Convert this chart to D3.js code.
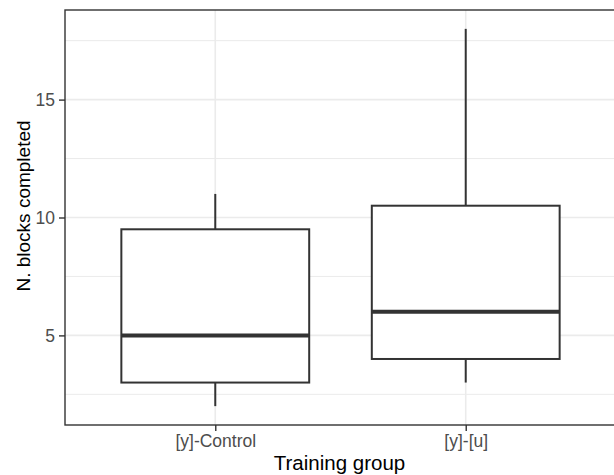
<!DOCTYPE html>
<html>
<head>
<meta charset="utf-8">
<script src="https://cdn.jsdelivr.net/npm/d3@7"></script>
<style>
  html, body { margin: 0; padding: 0; background: #fff; }
  svg { display: block; font-family: "Liberation Sans", Arial, sans-serif; }
</style>
</head>
<body>
<svg id="chart" width="614" height="475"></svg>
<script>
// ---- data ----
const categories = ["[y]-Control", "[y]-[u]"];
const whiskerLow = [2, 3];
const q1 = [3, 4];
const median = [5, 6];
const q3 = [9.5, 10.5];
const whiskerHigh = [11, 18];
const yTicks = [5, 10, 15];
const yMinorTicks = [2.5, 7.5, 12.5, 17.5];
const xTitle = "Training group";
const yTitle = "N. blocks completed";

// ---- layout ----
const W = 614, H = 475;
const panel = { left: 65, right: 616, top: 10, bottom: 425 };

const svg = d3.select("#chart");

const x = d3.scalePoint()
  .domain(categories)
  .range([panel.left, panel.right])
  .padding(0.6);

const y = d3.scaleLinear()
  .domain([1.2, 18.8])
  .range([panel.bottom, panel.top]);

const boxW = x.step() * 0.75;

// panel background
svg.append("rect")
  .attr("x", panel.left).attr("y", panel.top)
  .attr("width", panel.right - panel.left)
  .attr("height", panel.bottom - panel.top)
  .attr("fill", "#fff");

const grid = svg.append("g");
grid.selectAll("line.minor").data(yMinorTicks).join("line")
  .attr("x1", panel.left).attr("x2", panel.right)
  .attr("y1", d => y(d)).attr("y2", d => y(d))
  .attr("stroke", "#EBEBEB").attr("stroke-width", 1);
grid.selectAll("line.majory").data(yTicks).join("line")
  .attr("x1", panel.left).attr("x2", panel.right)
  .attr("y1", d => y(d)).attr("y2", d => y(d))
  .attr("stroke", "#EBEBEB").attr("stroke-width", 1.6);
grid.selectAll("line.majorx").data(categories).join("line")
  .attr("y1", panel.top).attr("y2", panel.bottom)
  .attr("x1", d => x(d)).attr("x2", d => x(d))
  .attr("stroke", "#EBEBEB").attr("stroke-width", 1.6);

// boxes
const stroke = "#333333";
const boxes = svg.append("g").selectAll("g").data(categories.map((c, i) => ({
  c, lo: whiskerLow[i], q1: q1[i], med: median[i], q3: q3[i], hi: whiskerHigh[i]
}))).join("g");

boxes.append("line")
  .attr("x1", d => x(d.c)).attr("x2", d => x(d.c))
  .attr("y1", d => y(d.q3)).attr("y2", d => y(d.hi))
  .attr("stroke", stroke).attr("stroke-width", 2);
boxes.append("line")
  .attr("x1", d => x(d.c)).attr("x2", d => x(d.c))
  .attr("y1", d => y(d.q1)).attr("y2", d => y(d.lo))
  .attr("stroke", stroke).attr("stroke-width", 2);
boxes.append("rect")
  .attr("x", d => x(d.c) - boxW / 2)
  .attr("width", boxW)
  .attr("y", d => y(d.q3))
  .attr("height", d => y(d.q1) - y(d.q3))
  .attr("fill", "#fff")
  .attr("stroke", stroke).attr("stroke-width", 2);
boxes.append("line")
  .attr("x1", d => x(d.c) - boxW / 2).attr("x2", d => x(d.c) + boxW / 2)
  .attr("y1", d => y(d.med)).attr("y2", d => y(d.med))
  .attr("stroke", stroke).attr("stroke-width", 4);

// panel border
svg.append("rect")
  .attr("x", panel.left).attr("y", panel.top)
  .attr("width", panel.right - panel.left)
  .attr("height", panel.bottom - panel.top)
  .attr("fill", "none")
  .attr("stroke", "#333333").attr("stroke-width", 1.4);

// axes
const tickFont = "17.5px";
const yAxis = d3.axisLeft(y).tickValues(yTicks).tickSize(6).tickPadding(4).tickFormat(d3.format("d"));
const gy = svg.append("g").attr("transform", `translate(${panel.left},0)`).call(yAxis);
gy.select(".domain").remove();
gy.selectAll(".tick line").attr("stroke", "#333333").attr("stroke-width", 1.4);
gy.selectAll(".tick text").attr("fill", "#4D4D4D").style("font-size", tickFont)
  .style("font-family", "'Liberation Sans', Arial, sans-serif");

const xAxis = d3.axisBottom(x).tickSize(6).tickPadding(4);
const gx = svg.append("g").attr("transform", `translate(0,${panel.bottom})`).call(xAxis);
gx.select(".domain").remove();
gx.selectAll(".tick line").attr("stroke", "#333333").attr("stroke-width", 1.4);
gx.selectAll(".tick text").attr("fill", "#4D4D4D").style("font-size", tickFont)
  .style("font-family", "'Liberation Sans', Arial, sans-serif");

// titles
svg.append("text")
  .attr("x", (panel.left + panel.right) / 2 - 1)
  .attr("y", 470)
  .attr("text-anchor", "middle")
  .style("font-size", "20.5px")
  .attr("fill", "#000")
  .text(xTitle);

svg.append("text")
  .attr("transform", `translate(29.5,206) rotate(-90)`)
  .attr("text-anchor", "middle")
  .style("font-size", "19px")
  .attr("fill", "#000")
  .text(yTitle);
</script>
</body>
</html>
